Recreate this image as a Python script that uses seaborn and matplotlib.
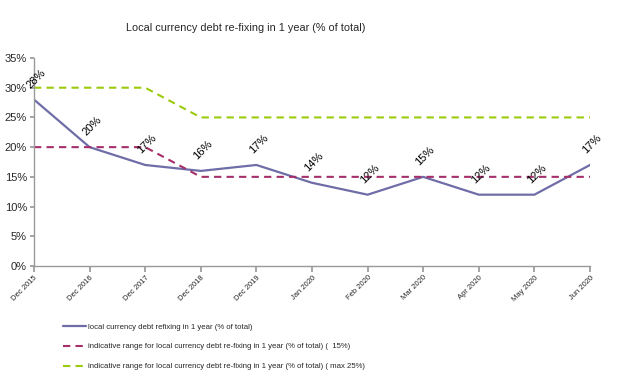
import matplotlib
matplotlib.use("Agg")
import matplotlib.pyplot as plt
import seaborn as sns
import pandas as pd

periods = ["Dec 2015", "Dec 2016", "Dec 2017", "Dec 2018", "Dec 2019", "Jan 2020",
           "Feb 2020", "Mar 2020", "Apr 2020", "May 2020", "Jun 2020"]
refixing = [28, 20, 17, 16, 17, 14, 12, 15, 12, 12, 17]
range_low = [20, 20, 20, 15, 15, 15, 15, 15, 15, 15, 15]
range_max = [30, 30, 30, 25, 25, 25, 25, 25, 25, 25, 25]

name_main = "local currency debt refixing in 1 year (% of total)"
name_low = "indicative range for local currency debt re-fixing in 1 year (% of total) (  15%)"
name_max = "indicative range for local currency debt re-fixing in 1 year (% of total) ( max 25%)"

sns.set_theme(style="white")
plt.rcParams["font.family"] = ["Liberation Sans", "DejaVu Sans"]

pos = list(range(len(periods)))
df = pd.DataFrame({"pos": pos, "main": refixing, "low": range_low, "max": range_max})

fig = plt.figure(figsize=(6.19, 3.82), dpi=100)
ax = fig.add_axes([34 / 619, 1 - 266 / 382, (590 - 34) / 619, (266 - 58) / 382])

sns.lineplot(data=df, x="pos", y="main", ax=ax, color="#6F6DA8", lw=1.6, label=name_main)
sns.lineplot(data=df, x="pos", y="low", ax=ax, color="#A52F6A", lw=1.5, label=name_low,
             linestyle=(0, (3.5, 2.5)))
sns.lineplot(data=df, x="pos", y="max", ax=ax, color="#9BCB0C", lw=1.5, label=name_max,
             linestyle=(0, (3.5, 2.5)))

for x, v in zip(pos, refixing):
    ax.annotate(f"{v}%", (x, v), xytext=(1.5, 15), textcoords="offset points",
                rotation=45, ha="center", va="center", fontsize=8, color="black")

ax.set_xlim(0, len(periods) - 1)
ax.set_ylim(0, 35)
ax.set_yticks(range(0, 36, 5))
ax.set_yticklabels([f"{t}%" for t in range(0, 36, 5)], fontsize=8)
ax.set_xticks(pos)
ax.set_xticklabels(periods, rotation=45, ha="right", rotation_mode="anchor", fontsize=5.5)
ax.set_xlabel("")
ax.set_ylabel("")
for s in ["top", "right"]:
    ax.spines[s].set_visible(False)
for s in ["left", "bottom"]:
    ax.spines[s].set_color("#9A9A9A")
    ax.spines[s].set_linewidth(1.0)
ax.tick_params(axis="x", bottom=True, length=4, color="#9A9A9A", pad=2)
ax.tick_params(axis="y", left=True, length=3, color="#9A9A9A", pad=2)

fig.text(246 / 619, 1 - 28 / 382, "Local currency debt re-fixing in 1 year (% of total)",
         ha="center", va="center", fontsize=7.8)

ax.legend(loc="upper left", bbox_to_anchor=(60 / 619, 1 - 320 / 382), bbox_transform=fig.transFigure,
          frameon=False, fontsize=5.6, handlelength=3.0, labelspacing=1.6, handletextpad=0.2,
          borderaxespad=0)

fig.savefig("out.png", dpi=100)
